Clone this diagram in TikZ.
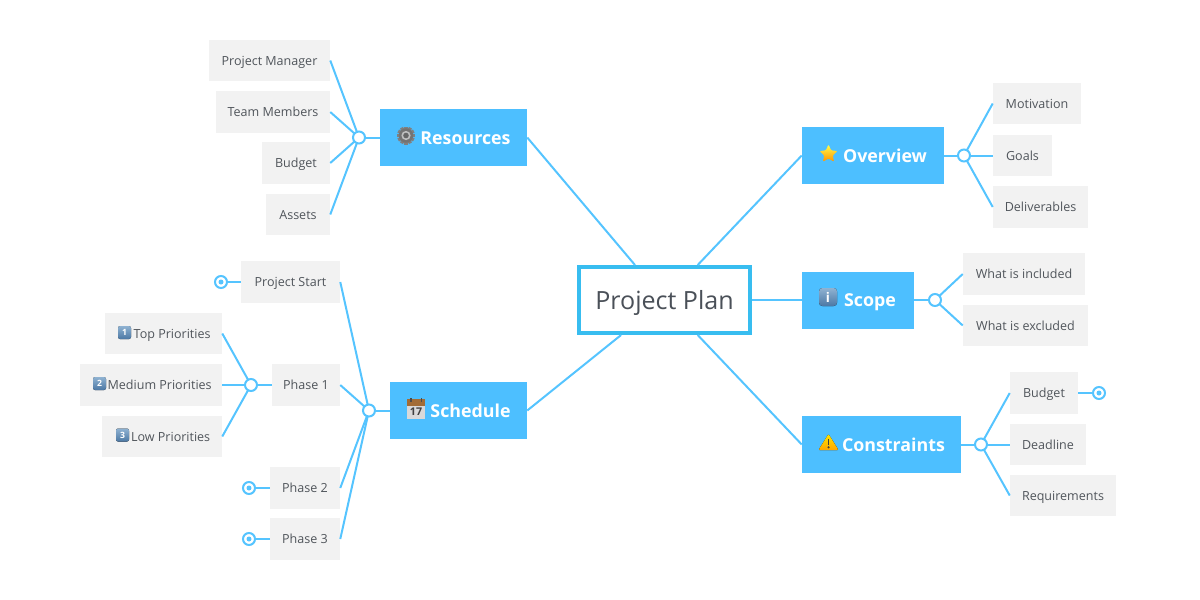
\documentclass[tikz,border=0pt]{standalone}
\usepackage{fontspec}
\setmainfont{Open Sans}
\usetikzlibrary{shapes.geometric}
\definecolor{topicblue}{HTML}{4DBFFF}
\definecolor{linkblue}{HTML}{55C4FF}
\definecolor{rootblue}{HTML}{38BDF0}
\definecolor{leafgrey}{HTML}{F2F2F2}
\definecolor{inkgrey}{HTML}{50555B}
\definecolor{rootink}{HTML}{4A5058}
\definecolor{captop}{HTML}{8FB2D2}
\definecolor{capbot}{HTML}{4C78A4}
\tikzset{
  x=0.75pt,y=-0.75pt,
  root/.style={draw=rootblue,line width=3pt,fill=white,text=rootink,inner sep=0pt,minimum width=171*0.75pt,minimum height=66*0.75pt,text height=13.6pt,text depth=0pt,font=\fontsize{18.8pt}{22pt}\selectfont},
  topic/.style={fill=topicblue,text=white,inner sep=0pt,minimum width=#1*0.75pt,minimum height=57*0.75pt,text height=10pt,text depth=0pt,font=\fontsize{13.35pt}{16pt}\selectfont\bfseries},
  leaf/.style={fill=leafgrey,text=inkgrey,inner sep=0pt,minimum width=#1*0.75pt,minimum height=41.5*0.75pt,text height=7.1pt,text depth=0pt,font=\fontsize{9.4pt}{12pt}\selectfont},
  link/.style={draw=linkblue,line width=1.5pt},
  joint/.style={circle,draw=linkblue,line width=1.5pt,fill=white,inner sep=0pt,minimum size=12*0.75pt},
  marker/.style={circle,draw=linkblue,line width=1.5pt,fill=white,inner sep=0pt,minimum size=12*0.75pt},
  markerdot/.style={circle,fill=linkblue,inner sep=0pt,minimum size=5*0.75pt},
  capdigit/.style={text=white,inner sep=0pt,font=\fontsize{6.5pt}{7pt}\selectfont\bfseries},
  capbox/.style={rounded corners=1.5pt,top color=captop,bottom color=capbot},
}
\begin{document}
\begin{tikzpicture}
\useasboundingbox (0,0) rectangle (1200,600);
% boxes
\node[root] (plan) at (664.5,300) {Project Plan};
\node[topic=147] (res) at (453.5,137.5) {\hspace*{18pt}Resources};
\node[topic=137] (sch) at (458.5,410.5) {\hspace*{18pt}Schedule};
\node[topic=142] (ove) at (873,155.5) {\hspace*{18pt}Overview};
\node[topic=112] (sco) at (858,300) {\hspace*{18pt}Scope};
\node[topic=159] (con) at (881.5,444.5) {\hspace*{18pt}Constraints};
\node[leaf=121] (pm) at (269.5,60.5) {Project Manager};
\node[leaf=114] (tm) at (273,112) {Team Members};
\node[leaf=68] (bu) at (296,163) {Budget};
\node[leaf=64] (as) at (298,214.5) {Assets};
\node[leaf=99] (ps) at (290.5,282) {Project Start};
\node[leaf=68] (p1) at (306,385) {Phase 1};
\node[leaf=117] (top) at (163.5,333.5) {\hspace*{13pt}Top Priorities};
\node[leaf=142] (med) at (151,385) {\hspace*{13pt}Medium Priorities};
\node[leaf=120] (low) at (162,436.5) {\hspace*{13pt}Low Priorities};
\node[leaf=70] (p2) at (305,488) {Phase 2};
\node[leaf=70] (p3) at (305,539) {Phase 3};
\node[leaf=88] (mot) at (1037,103.5) {Motivation};
\node[leaf=59] (goa) at (1022.5,155.5) {Goals};
\node[leaf=95] (del) at (1040.5,207) {Deliverables};
\node[leaf=122] (inc) at (1024,274) {What is included};
\node[leaf=125] (exc) at (1025.5,325.5) {What is excluded};
\node[leaf=68] (cbu) at (1044,393) {Budget};
\node[leaf=76] (dea) at (1048,444.5) {Deadline};
\node[leaf=106] (req) at (1063,495.5) {Requirements};
% joints
\coordinate (jres) at (359,137.5);
\coordinate (jsch) at (369,410.5);
\coordinate (jp1) at (251,385);
\coordinate (jove) at (964,155.5);
\coordinate (jsco) at (935,300);
\coordinate (jcon) at (981,444.5);
% connectors
\draw[link] (plan) -- (res.east);
\draw[link] (plan) -- (sch.east);
\draw[link] (plan) -- (ove.west);
\draw[link] (plan.east) -- (sco.west);
\draw[link] (plan) -- (con.west);
\foreach \a in {pm,tm,bu,as} \draw[link] (jres) -- (\a.east);
\draw[link] (jres) -- (res.west);
\foreach \a in {ps,p1,p2,p3} \draw[link] (jsch) -- (\a.east);
\draw[link] (jsch) -- (sch.west);
\foreach \a in {top,med,low} \draw[link] (jp1) -- (\a.east);
\draw[link] (jp1) -- (p1.west);
\foreach \a in {mot,goa,del} \draw[link] (jove) -- (\a.west);
\draw[link] (jove) -- (ove.east);
\foreach \a in {inc,exc} \draw[link] (jsco) -- (\a.west);
\draw[link] (jsco) -- (sco.east);
\foreach \a in {cbu,dea,req} \draw[link] (jcon) -- (\a.west);
\draw[link] (jcon) -- (con.east);
\node[joint] (njres) at (jres) {};
\node[joint] (njsch) at (jsch) {};
\node[joint] (njp1) at (jp1) {};
\node[joint] (njove) at (jove) {};
\node[joint] (njsco) at (jsco) {};
\node[joint] (njcon) at (jcon) {};
% collapsed markers
\node[marker] (m1) at (221,282) {};
\node[marker] (m2) at (249,488) {};
\node[marker] (m3) at (249,539) {};
\node[marker] (m4) at (1099,393) {};
\draw[link] (m1) -- (ps.west);
\draw[link] (m2) -- (p2.west);
\draw[link] (m3) -- (p3.west);
\draw[link] (m4) -- (cbu.east);
\node[markerdot] (d1) at (m1) {};
\node[markerdot] (d2) at (m2) {};
\node[markerdot] (d3) at (m3) {};
\node[markerdot] (d4) at (m4) {};
% keycap icons
\fill[capbox] (118,326) rectangle (131,339);
\node[capdigit] (k1) at (124.5,332.5) {1};
\fill[capbox] (93,377) rectangle (106,390);
\node[capdigit] (k2) at (99.5,383.5) {2};
\fill[capbox] (116,428.5) rectangle (129,441.5);
\node[capdigit] (k3) at (122.5,435) {3};
% info icon
\fill[rounded corners=2.5pt,top color=captop,bottom color=capbot] (819,288) rectangle (837,306);
\node[text=white,inner sep=0pt,font=\fontsize{10pt}{10pt}\selectfont\bfseries] (iinfo) at (828,297) {i};
% star icon
\node[star,star points=5,star point ratio=2.1,inner sep=0pt,minimum size=19*0.75pt,top color=yellow!70!white,bottom color=orange!85!yellow,rounded corners=0.8pt] (istar) at (828.5,154) {};
% warning icon
\fill[rounded corners=0.8pt,top color=yellow!80!orange,bottom color=orange!70!yellow] (828.5,434) -- (838.5,450) -- (818.5,450) -- cycle;
\fill[black!75] (827.6,438.5) rectangle (829.4,445);
\fill[black!75] (828.5,447.3) circle (1.2);
% gear icon
\begin{scope}[shift={(406,135.5)}]
\foreach \t in {0,30,...,330}
  \fill[black!50,rotate=\t] (-1.7,-9) rectangle (1.7,0);
\fill[black!55] (0,0) circle (7.2);
\fill[black!25] (0,0) circle (4.6);
\fill[black!60] (0,0) circle (2.8);
\end{scope}
% calendar icon
\fill[white!85!black] (407,399) rectangle (425,418.5);
\fill[brown!85!black] (407,399) rectangle (425,405.5);
\fill[black!70] (410,398) rectangle (411.5,402);
\fill[black!70] (420.5,398) rectangle (422,402);
\node[text=black!75,inner sep=0pt,font=\fontsize{8pt}{8pt}\selectfont\bfseries] (ical) at (416,412) {17};
\end{tikzpicture}
\end{document}
